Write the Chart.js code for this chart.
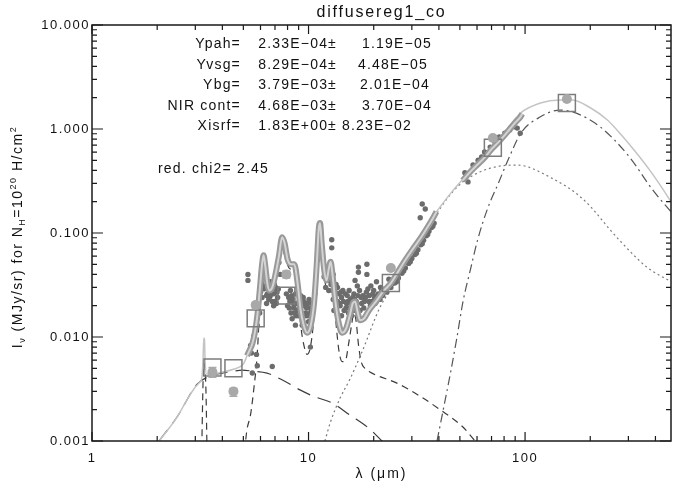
<!DOCTYPE html>
<html>
<head>
<meta charset="utf-8">
<title>diffusereg1_co</title>
<script src="https://cdn.jsdelivr.net/npm/chart.js@4.4.0/dist/chart.umd.min.js"></script>
<style>
    html, body { margin: 0; padding: 0; background: #fff; }
    canvas { display: block; }
</style>
</head>
<body>
<canvas id="sedChart" width="673" height="486"></canvas>
<script>
"use strict";

// Texter och axlar
const chartTitle = "diffusereg1_co";
const xTickVals = [1, 10, 100];
const xTickLabels = ["1", "10", "100"];
const yTickVals = [0.001, 0.01, 0.1, 1, 10];
const yTickLabels = ["0.001", "0.010", "0.100", "1.000", "10.000"];

const paramNames = ["Ypah=", "Yvsg=", "Ybg=", "NIR cont=", "Xisrf="];
const paramValues = ["2.33E\u221204\u00b1", "8.29E\u221204\u00b1", "3.79E\u221203\u00b1", "4.68E\u221203\u00b1", "1.83E+00\u00b1"];
const paramErrors = ["1.19E\u221205", "4.48E\u221205", "2.01E\u221204", "3.70E\u221204", "8.23E\u221202"];
const chi2Text = "red. chi2= 2.45";

// Totalmodell, nära IR-delen och fjärr-IR-delen
const totalNearWave = [2.04, 2.2, 2.47, 2.75, 3.0, 3.15, 3.22, 3.26, 3.285, 3.305, 3.33, 3.38, 3.6, 4.0, 4.5, 5.0];
const totalNearFlux = [0.001, 0.00122, 0.0017, 0.0025, 0.0033, 0.0037, 0.0041, 0.0065, 0.0098, 0.0096, 0.0058, 0.0044, 0.0044, 0.0046, 0.0049, 0.0055];
const totalFarWave = [40.5, 46, 52.7, 60, 70, 80, 95.5, 117.8, 145, 165, 200, 240, 274, 320, 377, 420, 472];
const totalFarFlux = [0.178, 0.25, 0.345, 0.47, 0.67, 0.92, 1.43, 1.78, 1.9, 1.9, 1.6, 1.22, 0.91, 0.62, 0.40, 0.29, 0.2];

// Modell på spektrumets våglängder (tjockt band)
const bandWave1 = [5.2, 5.35, 5.5, 5.65, 5.8, 5.95, 6.1, 6.2, 6.3, 6.45, 6.6, 6.8, 7.0, 7.3, 7.55, 7.75, 8.0, 8.3, 8.6, 8.9,
    9.2, 9.5, 9.85, 10.2, 10.6, 10.9, 11.15, 11.3, 11.5, 11.8, 12.1, 12.4, 12.65, 12.9, 13.3, 13.8, 14.3, 14.9, 15.5, 16.0,
    16.4, 16.8, 17.3, 18.0, 19.0, 20.5, 22.0, 24.0, 26.0, 28.0, 30.0, 33.0, 36.0, 39.0];
const bandFlux1 = [0.0066, 0.0075, 0.0086, 0.011, 0.016, 0.028, 0.05, 0.061, 0.05, 0.033, 0.028, 0.03, 0.038, 0.06, 0.091, 0.08, 0.056, 0.05, 0.05, 0.033,
    0.018, 0.013, 0.011, 0.0125, 0.021, 0.048, 0.11, 0.125, 0.08, 0.045, 0.035, 0.045, 0.053, 0.04, 0.022, 0.0135, 0.011, 0.012, 0.016, 0.021,
    0.022, 0.018, 0.0145, 0.015, 0.018, 0.022, 0.027, 0.033, 0.043, 0.055, 0.068, 0.09, 0.12, 0.16];
const bandWave2 = [51.5, 56, 60, 65, 70, 75, 80, 85, 90, 95, 97];
const bandFlux2 = [0.32, 0.39, 0.45, 0.53, 0.64, 0.74, 0.86, 1.0, 1.15, 1.3, 1.4];

// Komponenter
const pahWave = [3.2, 3.25, 3.28, 3.31, 3.36, 3.42, 5.0, 5.2, 5.4, 5.6, 5.8, 5.95, 6.1, 6.2, 6.3, 6.45, 6.6, 6.8, 7.0, 7.3,
    7.55, 7.75, 8.0, 8.3, 8.6, 8.9, 9.2, 9.5, 9.85, 10.2, 10.6, 10.9, 11.15, 11.3, 11.5, 11.8, 12.1, 12.4, 12.65, 12.9,
    13.3, 13.8, 14.3, 14.8, 15.3, 15.8, 16.2, 16.6, 17.0, 17.5, 18.2, 19.2, 25.6, 32.7, 40.5, 51.5, 58.8, 65];
const pahFlux = [0.0005, 0.003, 0.0055, 0.0055, 0.003, 0.0005, 0.0007, 0.0013, 0.0018, 0.0033, 0.007, 0.02, 0.045, 0.056, 0.045, 0.027, 0.022, 0.025, 0.033, 0.055,
    0.086, 0.075, 0.05, 0.045, 0.045, 0.028, 0.013, 0.0085, 0.0068, 0.008, 0.016, 0.045, 0.105, 0.125, 0.075, 0.04, 0.03, 0.04, 0.048, 0.035,
    0.016, 0.0075, 0.0058, 0.0059, 0.0085, 0.013, 0.017, 0.014, 0.0085, 0.0058, 0.005, 0.0046, 0.0036, 0.0027, 0.002, 0.00137, 0.001, 0.0008];
const nirWave = [2.04, 2.47, 3.05, 3.5, 4.0, 4.5, 4.95, 5.5, 6.43, 7.5, 9.13, 10.5, 12.95, 15.5, 19.2, 21.8, 24];
const nirFlux = [0.001, 0.0017, 0.0035, 0.0042, 0.0045, 0.0047, 0.0048, 0.0047, 0.0045, 0.0039, 0.0031, 0.0027, 0.0023, 0.00178, 0.0013, 0.001, 0.0008];
const vsgWave = [11.9, 12.6, 14, 15.5, 17.8, 21.3, 26, 32, 40, 46, 52.7, 69, 92, 130, 186, 265, 365, 472];
const vsgFlux = [0.001, 0.0015, 0.0026, 0.0039, 0.0075, 0.019, 0.037, 0.075, 0.165, 0.245, 0.32, 0.42, 0.45, 0.345, 0.21, 0.091, 0.047, 0.034];
const bgWave = [39.2, 41.9, 45.5, 48.5, 51.7, 56, 60.4, 67, 75.2, 85, 95.5, 117.8, 145, 166, 222, 303, 388, 472];
const bgFlux = [0.001, 0.002, 0.0048, 0.01, 0.022, 0.045, 0.086, 0.17, 0.3, 0.55, 0.91, 1.31, 1.52, 1.46, 1.05, 0.54, 0.26, 0.16];

// Observerat spektrum
const specWave = [5.25, 5.25, 5.5, 5.8, 6.8, 5.45, 5.75, 5.4, 5.6, 5.8, 5.95, 6.17, 6.17, 6.0, 6.1, 6.3, 6.45, 6.6, 6.75, 6.9,
    7.05, 7.2, 6.8, 7.4, 7.6, 7.7, 7.9, 8.0, 8.2, 8.3, 8.4, 8.55, 8.7, 8.9, 9.1, 9.3, 9.4, 9.6, 9.8, 10.0,
    10.2, 10.4, 10.2, 10.7, 11.0, 11.3, 11.3, 11.3, 11.6, 12.2, 12.5, 12.8, 12.8, 12.9, 13.0, 13.2, 13.6, 14.0, 14.4, 14.6,
    15.0, 15.3, 15.6, 15.9, 16.4, 16.8, 16.2, 17.0, 17.0, 17.6, 18.0, 18.6, 18.6, 18.3, 19.0, 19.8, 20.6, 20.3, 21.4, 22.0,
    22.5, 23.0, 24.0, 25.0, 26.0, 27.0, 28.0, 29.0, 30.0, 31.0, 32.0, 33.0, 34.0, 35.0, 36.0, 37.0, 38.0, 32.8, 33.5, 34.6,
    23.5, 26.5, 52.7, 54.5, 57.5, 60.7, 63.0, 65.0, 69.0, 72.5, 76.0, 80.6, 85.0, 89.0, 92.0, 95.0,
    6.35, 6.5, 6.55, 6.65, 6.85, 7.0, 7.15, 6.4, 8.1, 8.25, 8.45, 8.6, 8.8, 9.0, 9.2, 9.5, 9.7, 9.9, 10.1, 10.3,
    8.7, 9.35, 13.4, 13.8, 14.2, 14.8, 15.2, 15.5, 16.0, 16.6, 17.2, 17.8, 18.8, 19.4, 20.0, 20.8, 21.8, 13.1, 14.2, 15.8,
    17.3, 19.3, 20.6, 12.0, 12.3, 12.6, 11.8, 6.25, 7.3, 7.85,
    6.05, 6.2, 6.4, 6.5, 6.7, 6.95, 7.1, 7.25, 6.6, 6.9, 8.15, 8.35, 8.5, 8.75, 9.05, 9.25, 9.45, 9.65, 9.85, 10.05,
    10.35, 12.4, 12.7, 13.0, 13.3, 13.6, 13.9, 14.1, 14.5, 14.9, 15.1, 15.4, 15.7, 16.1, 16.3, 16.9, 17.5, 18.1, 18.5, 19.1,
    19.6, 20.2, 21.0, 21.5, 25.5, 27.5, 29.5, 31.5, 33.5, 35.5, 37.5];
const specFlux = [0.04, 0.035, 0.0045, 0.0053, 0.0052, 0.007, 0.0068, 0.0083, 0.0103, 0.0129, 0.017, 0.058, 0.055, 0.027, 0.024, 0.031, 0.026, 0.029, 0.033, 0.026,
    0.03, 0.024, 0.022, 0.04, 0.085, 0.075, 0.026, 0.02, 0.022, 0.017, 0.015, 0.019, 0.013, 0.018, 0.023, 0.021, 0.02, 0.016, 0.019, 0.014,
    0.017, 0.021, 0.008, 0.026, 0.055, 0.12, 0.1, 0.085, 0.06, 0.045, 0.035, 0.086, 0.072, 0.028, 0.04, 0.024, 0.022, 0.02, 0.028, 0.018,
    0.021, 0.017, 0.023, 0.019, 0.035, 0.031, 0.026, 0.047, 0.042, 0.021, 0.019, 0.05, 0.04, 0.024, 0.022, 0.026, 0.034, 0.021, 0.023, 0.025,
    0.029, 0.027, 0.03, 0.033, 0.037, 0.041, 0.046, 0.051, 0.057, 0.062, 0.069, 0.077, 0.085, 0.094, 0.104, 0.113, 0.124, 0.14, 0.19, 0.17,
    0.036, 0.045, 0.38, 0.31, 0.45, 0.5, 0.54, 0.6, 0.67, 0.75, 0.84, 0.91, 0.98, 1.05, 1.02, 0.91,
    0.036, 0.031, 0.023, 0.034, 0.029, 0.022, 0.027, 0.021, 0.024, 0.028, 0.023, 0.017, 0.021, 0.016, 0.025, 0.022, 0.017, 0.021, 0.019, 0.015,
    0.026, 0.013, 0.032, 0.026, 0.024, 0.026, 0.022, 0.019, 0.024, 0.022, 0.028, 0.025, 0.029, 0.031, 0.028, 0.025, 0.028, 0.018, 0.016, 0.016,
    0.018, 0.02, 0.022, 0.03, 0.038, 0.042, 0.038, 0.045, 0.052, 0.065,
    0.033, 0.029, 0.025, 0.034, 0.027, 0.032, 0.021, 0.029, 0.025, 0.02, 0.019, 0.025, 0.021, 0.016, 0.019, 0.017, 0.024, 0.02, 0.016, 0.023,
    0.018, 0.028, 0.032, 0.023, 0.027, 0.03, 0.021, 0.027, 0.022, 0.019, 0.025, 0.028, 0.021, 0.018, 0.023, 0.025, 0.024, 0.022, 0.027, 0.025,
    0.022, 0.024, 0.026, 0.03, 0.034, 0.043, 0.053, 0.064, 0.079, 0.097, 0.116];

// Fotometri: observerad (cirklar) och modell (kvadrater)
const photWave = [3.6, 4.5, 5.7, 7.9, 24, 71, 156];
const photFlux = [0.0046, 0.003, 0.0203, 0.04, 0.046, 0.82, 1.94];
const photErrLo = [0.0041, 0.0027, 0.019, 0.037, 0.044, 0.78, 1.88];
const photErrHi = [0.0051, 0.0032, 0.0215, 0.043, 0.048, 0.86, 2.0];
const modelPhotFlux = [0.0051, 0.005, 0.0151, 0.025, 0.033, 0.66, 1.78];

const fontFamily = '"Liberation Sans", Arial, sans-serif';

function toXY(xs, ys) {
    return xs.map((v, i) => ({ x: v, y: ys[i] }));
}

// Linje-dataset
function curve(xs, ys, color, width, dash, order) {
    return {
        type: 'line',
        data: toXY(xs, ys),
        showLine: true,
        borderColor: color,
        borderWidth: width,
        borderDash: dash,
        pointRadius: 0,
        cubicInterpolationMode: 'monotone',
        fill: false,
        order: order
    };
}

// Tickmarkeringar inåt på alla fyra sidor
function minorTicks(decades, max) {
    let out = [];
    decades.forEach((d) => {
        for (let m = 2; m <= 9; m++) {
            if (d * m <= max) out.push(d * m);
        }
    });
    return out;
}

const sedDecor = {
    id: 'sedDecor',
    beforeDraw(chart) {
        chart.ctx.letterSpacing = '1.5px';
    },
    afterDatasetsDraw(chart) {
        const { ctx, scales: { x, y } } = chart;
        ctx.save();
        ctx.strokeStyle = '#a9a9a9';
        ctx.lineWidth = 1.5;
        photWave.forEach((w, i) => {
            const px = x.getPixelForValue(w);
            const top = y.getPixelForValue(photErrHi[i]);
            const bot = y.getPixelForValue(photErrLo[i]);
            ctx.beginPath();
            ctx.moveTo(px, top); ctx.lineTo(px, bot);
            ctx.moveTo(px - 4, top); ctx.lineTo(px + 4, top);
            ctx.moveTo(px - 4, bot); ctx.lineTo(px + 4, bot);
            ctx.stroke();
        });
        ctx.restore();
    },
    afterDraw(chart) {
        const { ctx, chartArea: a, scales: { x, y } } = chart;
        ctx.save();

        // Ram
        ctx.strokeStyle = '#1a1a1a';
        ctx.lineWidth = 1.5;
        ctx.strokeRect(a.left, a.top, a.right - a.left, a.bottom - a.top);

        // Ticks
        ctx.lineWidth = 1.2;
        ctx.beginPath();
        const xMinor = minorTicks(xTickVals, x.max);
        const yMinor = minorTicks([0.001, 0.01, 0.1, 1], y.max);
        xTickVals.forEach((v) => {
            const px = x.getPixelForValue(v);
            ctx.moveTo(px, a.bottom); ctx.lineTo(px, a.bottom - 9);
            ctx.moveTo(px, a.top); ctx.lineTo(px, a.top + 9);
        });
        xMinor.forEach((v) => {
            const px = x.getPixelForValue(v);
            ctx.moveTo(px, a.bottom); ctx.lineTo(px, a.bottom - 5);
            ctx.moveTo(px, a.top); ctx.lineTo(px, a.top + 5);
        });
        yTickVals.forEach((v) => {
            const py = y.getPixelForValue(v);
            ctx.moveTo(a.left, py); ctx.lineTo(a.left + 11, py);
            ctx.moveTo(a.right, py); ctx.lineTo(a.right - 11, py);
        });
        yMinor.forEach((v) => {
            const py = y.getPixelForValue(v);
            ctx.moveTo(a.left, py); ctx.lineTo(a.left + 5, py);
            ctx.moveTo(a.right, py); ctx.lineTo(a.right - 5, py);
        });
        ctx.stroke();

        ctx.fillStyle = '#111';

        // Titel
        ctx.letterSpacing = '1.8px';
        ctx.font = '16px ' + fontFamily;
        ctx.textAlign = 'center';
        ctx.textBaseline = 'alphabetic';
        ctx.fillText(chartTitle, (a.left + a.right) / 2, 17);

        // x-axelns titel
        ctx.letterSpacing = '2px';
        ctx.font = '14px ' + fontFamily;
        ctx.fillText("\u03bb (\u03bcm)", (a.left + a.right) / 2, 478);

        // y-axelns titel med index och exponenter
        const parts = [
            { t: "I", s: 0 }, { t: "\u03bd", s: 1 }, { t: " (MJy/sr) for N", s: 0 }, { t: "H", s: 1 },
            { t: "=10", s: 0 }, { t: "20", s: -1 }, { t: " H/cm", s: 0 }, { t: "2", s: -1 }
        ];
        ctx.letterSpacing = '1.5px';
        let total = 0;
        parts.forEach((p) => {
            ctx.font = (p.s === 0 ? '14px ' : '9px ') + fontFamily;
            p.w = ctx.measureText(p.t).width;
            total += p.w;
        });
        ctx.translate(22, (a.top + a.bottom) / 2 + 4);
        ctx.rotate(-Math.PI / 2);
        ctx.textAlign = 'left';
        let cx = -total / 2;
        parts.forEach((p) => {
            ctx.font = (p.s === 0 ? '14px ' : '9px ') + fontFamily;
            const dy = p.s === 1 ? 3 : (p.s === -1 ? -6 : 0);
            ctx.fillText(p.t, cx, dy);
            cx += p.w;
        });
        ctx.setTransform(1, 0, 0, 1, 0, 0);

        // Parametrar
        const errLeft = [362, 358, 360, 362, 342];
        ctx.letterSpacing = '1.2px';
        ctx.font = '14px ' + fontFamily;
        paramNames.forEach((name, i) => {
            const base = 48 + i * 20.5;
            ctx.textAlign = 'right';
            ctx.fillText(name, 241, base);
            ctx.fillText(paramValues[i], 337, base);
            ctx.textAlign = 'left';
            ctx.fillText(paramErrors[i], errLeft[i], base);
        });
        ctx.fillText(chi2Text, 158, 173);

        ctx.restore();
    }
};

const ctx = document.getElementById('sedChart');

new Chart(ctx, {
    type: 'scatter',
    data: {
        datasets: [
            curve(pahWave, pahFlux, '#3c3c3c', 1.2, [7, 5], 20),
            curve(nirWave, nirFlux, '#3c3c3c', 1.2, [14, 8], 19),
            curve(vsgWave, vsgFlux, '#7a7a7a', 1.2, [2, 3], 18),
            curve(bgWave, bgFlux, '#555555', 1.2, [9, 4, 2, 4], 17),
            curve(totalNearWave.concat(bandWave1, totalFarWave), totalNearFlux.concat(bandFlux1, totalFarFlux), '#c4c4c4', 1.5, [], 16),
            {
                data: toXY(specWave, specFlux),
                pointRadius: 2.7,
                pointBackgroundColor: '#6c6c6c',
                pointBorderWidth: 0,
                order: 15
            },
            curve(bandWave1, bandFlux1, '#999999', 6, [], 14),
            curve(bandWave2, bandFlux2, '#999999', 6, [], 14),
            curve(bandWave1, bandFlux1, '#d4d4d4', 2, [], 13),
            curve(bandWave2, bandFlux2, '#d4d4d4', 2, [], 13),
            {
                data: toXY(photWave, modelPhotFlux),
                pointStyle: 'rect',
                pointRadius: 12,
                pointBackgroundColor: 'rgba(0,0,0,0)',
                pointBorderColor: '#7c7c7c',
                pointBorderWidth: 1.5,
                order: 12
            },
            {
                data: toXY(photWave, photFlux),
                pointRadius: 5,
                pointBackgroundColor: '#a9a9a9',
                pointBorderWidth: 0,
                order: 11
            }
        ]
    },
    options: {
        responsive: false,
        animation: false,
        events: [],
        layout: { autoPadding: false, padding: { top: 25, right: 2, left: 0, bottom: 0 } },
        plugins: {
            legend: { display: false },
            tooltip: { enabled: false }
        },
        scales: {
            x: {
                type: 'logarithmic',
                min: 1,
                max: 472,
                bounds: 'data',
                grid: { display: false, drawTicks: false },
                border: { display: false },
                afterBuildTicks: (s) => { s.ticks = xTickVals.map((v) => ({ value: v })); },
                afterFit: (s) => { s.height = 45; },
                ticks: {
                    autoSkip: false,
                    maxRotation: 0,
                    padding: 10,
                    color: '#111',
                    font: { family: fontFamily, size: 13 },
                    callback: (v, i) => xTickLabels[i]
                }
            },
            y: {
                type: 'logarithmic',
                min: 0.001,
                max: 10,
                bounds: 'data',
                grid: { display: false, drawTicks: false },
                border: { display: false },
                afterBuildTicks: (s) => { s.ticks = yTickVals.map((v) => ({ value: v })); },
                afterFit: (s) => { s.width = 92; },
                ticks: {
                    autoSkip: false,
                    padding: 2,
                    color: '#111',
                    font: { family: fontFamily, size: 13 },
                    callback: (v, i) => yTickLabels[i]
                }
            }
        }
    },
    plugins: [sedDecor]
});
</script>
</body>
</html>
